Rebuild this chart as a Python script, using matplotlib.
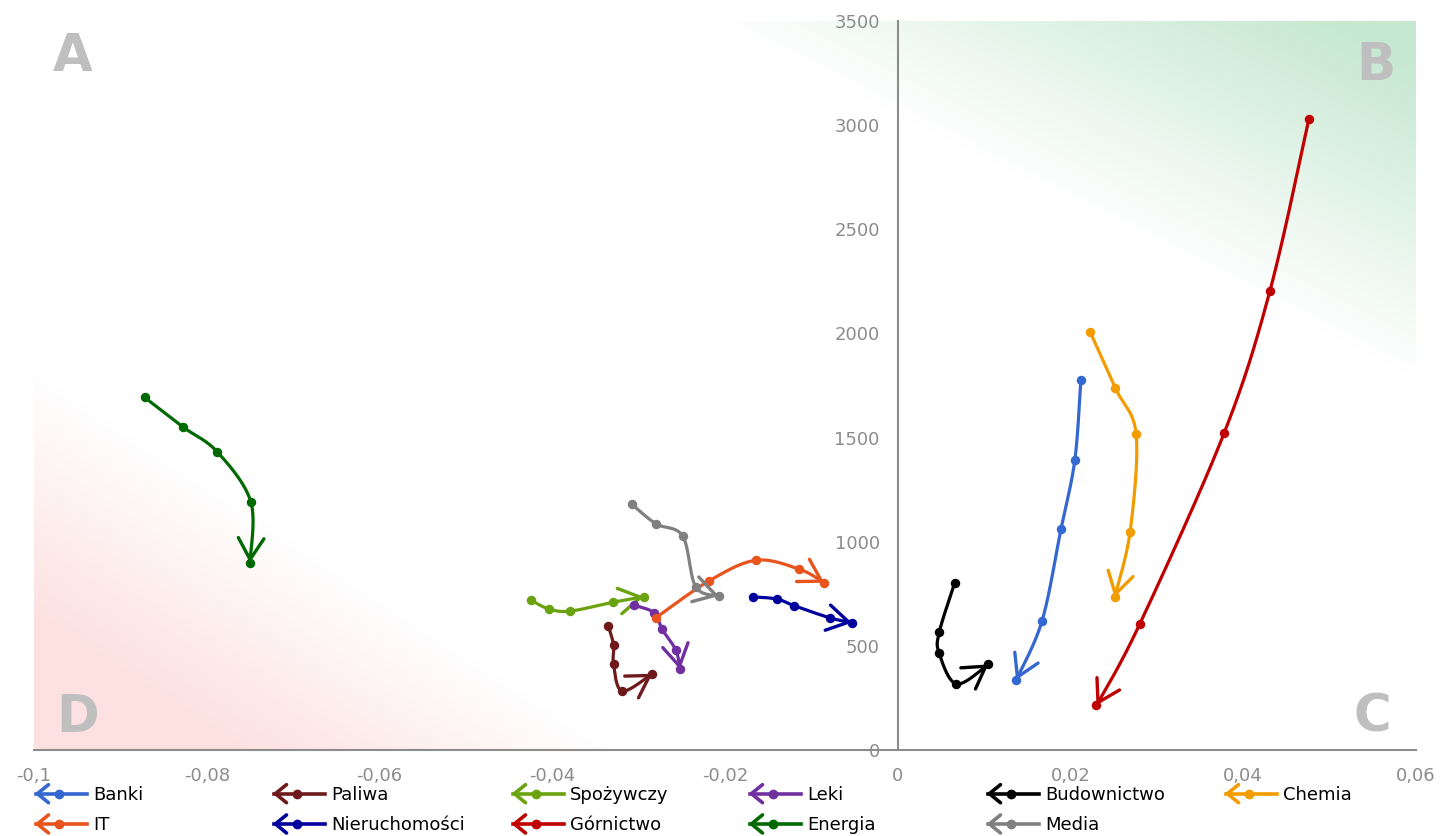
import numpy as np
import matplotlib
matplotlib.use("Agg")
import matplotlib.pyplot as plt
from matplotlib.lines import Line2D
from matplotlib.legend_handler import HandlerBase

plt.rcParams['font.family'] = ['DejaVu Sans']

# dane: (x, y) dla kolejnych okresów, strzałka na ostatnim punkcie
banki_x = [0.0212, 0.0205, 0.0189, 0.0167, 0.0137]
banki_y = [1776, 1392, 1061, 619, 336]
paliwa_x = [-0.0335, -0.0329, -0.0329, -0.0319, -0.0284]
paliwa_y = [595, 503, 411, 283, 366]
spoz_x = [-0.0425, -0.0404, -0.0379, -0.0330, -0.0294]
spoz_y = [720, 677, 667, 709, 736]
leki_x = [-0.0305, -0.0282, -0.0273, -0.0257, -0.0252]
leki_y = [695, 659, 581, 480, 387]
bud_x = [0.0066, 0.0048, 0.0048, 0.0068, 0.0105]
bud_y = [803, 565, 464, 317, 411]
chemia_x = [0.0223, 0.0252, 0.0276, 0.0269, 0.0251]
chemia_y = [2005, 1737, 1516, 1048, 733]
it_x = [-0.0280, -0.0218, -0.0164, -0.0114, -0.0085]
it_y = [635, 813, 911, 868, 803]
nier_x = [-0.0168, -0.0140, -0.0120, -0.0079, -0.0053]
nier_y = [735, 725, 693, 635, 611]
gorn_x = [0.0476, 0.0431, 0.0378, 0.0280, 0.0230]
gorn_y = [3029, 2206, 1523, 603, 214]
energia_x = [-0.0872, -0.0828, -0.0788, -0.0749, -0.0750]
energia_y = [1693, 1552, 1432, 1192, 899]
media_x = [-0.0308, -0.0280, -0.0249, -0.0234, -0.0207]
media_y = [1180, 1086, 1027, 784, 739]

names = ["Banki", "Paliwa", "Spożywczy", "Leki", "Budownictwo", "Chemia",
         "IT", "Nieruchomości", "Górnictwo", "Energia", "Media"]
colors = ["#3467D0", "#6E1A1C", "#6BA30E", "#7030A0", "#000000", "#F39C00",
          "#E8541C", "#00009C", "#C00000", "#006A00", "#808080"]
xs_all = [banki_x, paliwa_x, spoz_x, leki_x, bud_x, chemia_x,
          it_x, nier_x, gorn_x, energia_x, media_x]
ys_all = [banki_y, paliwa_y, spoz_y, leki_y, bud_y, chemia_y,
          it_y, nier_y, gorn_y, energia_y, media_y]

xticks = [-0.1, -0.08, -0.06, -0.04, -0.02, 0, 0.02, 0.04, 0.06]
xlabels = ["-0,1", "-0,08", "-0,06", "-0,04", "-0,02", "0", "0,02", "0,04", "0,06"]
yticks = [0, 500, 1000, 1500, 2000, 2500, 3000, 3500]

GRAY = "#8C8C8C"

fig = plt.figure(figsize=(14.4, 8.36), dpi=100)
ax = fig.add_axes([34 / 1440, 86 / 836, 1382 / 1440, 729 / 836])
ax.set_xlim(-0.1, 0.06)
ax.set_ylim(0, 3500)

# tła gradientowe (ćwiartki B i D)
X, Y = np.meshgrid(np.linspace(0, 1, 400), np.linspace(0, 1, 400))
t = 0.465 * X + 0.482 * Y
a_g = np.clip((t - 0.71) / 0.21, 0, 1)
green = np.zeros((400, 400, 4))
green[..., :3] = np.array([198, 232, 208]) / 255
green[..., 3] = a_g
s = 1 - (X / 0.42 + Y / 0.52)
a_r = np.clip(s / 0.65, 0, 1)
red = np.zeros((400, 400, 4))
red[..., :3] = np.array([253, 225, 225]) / 255
red[..., 3] = a_r
for img in (green, red):
    ax.imshow(img, extent=(0, 1, 0, 1), transform=ax.transAxes,
              origin="lower", aspect="auto", zorder=0, interpolation="bilinear")
ax.set_xlim(-0.1, 0.06)
ax.set_ylim(0, 3500)

for sp in ["top", "right"]:
    ax.spines[sp].set_visible(False)
ax.spines["left"].set_position(("data", 0))
ax.spines["left"].set_color(GRAY)
ax.spines["bottom"].set_color(GRAY)
ax.spines["left"].set_linewidth(1.5)
ax.spines["bottom"].set_linewidth(1.5)
ax.set_xticks(xticks)
ax.set_xticklabels(xlabels)
ax.set_yticks(yticks)
ax.tick_params(axis="x", length=0, pad=12, labelsize=13, labelcolor=GRAY)
ax.tick_params(axis="y", length=0, pad=13, labelsize=13, labelcolor=GRAY)


def smooth(xs, ys, n=40):
    # wygładzanie jak w Excelu (Catmull-Rom) w układzie pikseli
    pts = ax.transData.transform(np.column_stack([xs, ys]))
    p = np.vstack([pts[0], pts, pts[-1]])
    tt = np.linspace(0, 1, n)[:, None]
    segs = []
    for i in range(1, len(p) - 2):
        p0, p1, p2, p3 = p[i - 1], p[i], p[i + 1], p[i + 2]
        c1 = p1 + (p2 - p0) / 6
        c2 = p2 - (p3 - p1) / 6
        segs.append((1 - tt) ** 3 * p1 + 3 * (1 - tt) ** 2 * tt * c1
                    + 3 * (1 - tt) * tt ** 2 * c2 + tt ** 3 * p2)
    return ax.transData.inverted().transform(np.vstack(segs))


for k, (xs, ys, c) in enumerate(zip(xs_all, ys_all, colors)):
    curve = smooth(xs, ys)
    z = 3 + k * 0.01
    ax.plot(curve[:, 0], curve[:, 1], color=c, lw=2.3, zorder=z,
            solid_capstyle="round")
    ax.plot(xs, ys, "o", color=c, ms=5.8, zorder=z)
    ax.annotate("", xy=(xs[-1], ys[-1]), xytext=(curve[-4, 0], curve[-4, 1]),
                arrowprops=dict(arrowstyle="->,head_length=0.7,head_width=0.42",
                                color=c, lw=2.4, mutation_scale=22,
                                shrinkA=0, shrinkB=0), zorder=z)

# litery ćwiartek
for txt, px, py in [("A", 73, 57), ("B", 1376, 66), ("C", 1372, 718), ("D", 78, 718)]:
    fig.text(px / 1440, 1 - py / 836, txt, ha="center", va="center",
             fontsize=37, fontweight="bold", color="#BFBFBF")


class ArrowHandler(HandlerBase):
    def create_artists(self, legend, orig_handle, xdescent, ydescent,
                       width, height, fontsize, trans):
        c = orig_handle.get_color()
        y = height / 2 - ydescent
        x0 = -xdescent
        line = Line2D([x0, x0 + width], [y, y], color=c, lw=2.6)
        dot = Line2D([x0 + width * 0.46], [y], marker="o", ms=6, color=c)
        head = Line2D([x0 + 9, x0 + 1, x0 + 9], [y + 6.5, y, y - 6.5],
                      color=c, lw=2.6, solid_capstyle="round")
        for a in (line, dot, head):
            a.set_transform(trans)
        return [line, dot, head]


col_x = [36, 274, 513, 750, 988, 1226]
for j, cx in enumerate(col_x):
    idx = [j, j + 6] if j + 6 < len(names) else [j]
    handles = [Line2D([], [], color=colors[i]) for i in idx]
    labels = [names[i] for i in idx]
    leg = fig.legend(handles, labels, loc="upper left",
                     bbox_to_anchor=(cx / 1440, 1 - 786 / 836),
                     frameon=False, fontsize=13, handlelength=2.8,
                     handletextpad=0.35, borderpad=0, borderaxespad=0,
                     labelspacing=0.68, handler_map={Line2D: ArrowHandler()})

fig.savefig("out.png", dpi=100)
